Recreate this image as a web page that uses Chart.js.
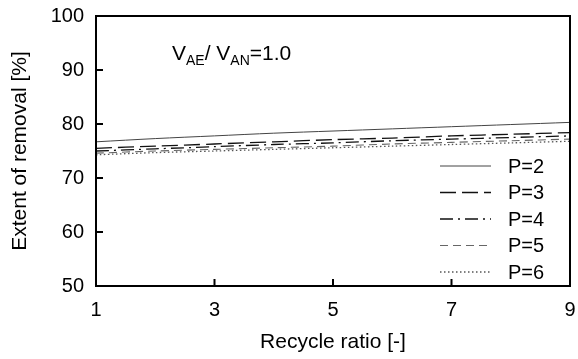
<!DOCTYPE html>
<html>
<head>
<meta charset="utf-8">
<script src="https://cdn.jsdelivr.net/npm/chart.js@4"></script>
<style>
  html, body { margin:0; padding:0; background:#fff; }
  #wrap { width:578px; height:359px; }
</style>
</head>
<body>
<div id="wrap"><canvas id="chart" width="578" height="359"></canvas></div>
<script>
// ================= DATA =================
const ratios = [1, 2, 3, 4, 5, 6, 7, 8, 9];
const p2 = [76.7, 77.3, 77.8, 78.3, 78.7, 79.1, 79.5, 79.9, 80.3];
const p3 = [75.5, 75.9, 76.3, 76.7, 77.1, 77.4, 77.8, 78.1, 78.4];
const p4 = [75.0, 75.4, 75.8, 76.2, 76.5, 76.9, 77.2, 77.5, 77.8];
const p5 = [74.6, 75.0, 75.3, 75.6, 75.9, 76.3, 76.6, 76.9, 77.2];
const p6 = [74.3, 74.7, 75.0, 75.3, 75.6, 75.9, 76.2, 76.5, 76.8];
const seriesNames = ["P=2", "P=3", "P=4", "P=5", "P=6"];
const xTicks = [1, 3, 5, 7, 9];
const yTicks = [50, 60, 70, 80, 90, 100];

const FONT = "Liberation Sans, Arial, sans-serif";

function pts(vals){
    return ratios.map((r, i) => ({x: r, y: vals[i]}));
}

const styles = [
    {color:"#444", dash:[], width:1},
    {color:"#111", dash:[16,6], width:1.3},
    {color:"#111", dash:[13,5,2,5], width:1.3},
    {color:"#666", dash:[8,5], width:1.1},
    {color:"#555", dash:[1.5,2.5], width:1.3}
];

const datasets = [p2, p3, p4, p5, p6].map((v, i) => ({
    label: seriesNames[i],
    data: pts(v),
    borderColor: styles[i].color,
    borderDash: styles[i].dash,
    borderWidth: styles[i].width,
    pointRadius: 0,
    fill: false,
    tension: 0.3
}));

// ================= PLUGINS =================
const frame = {
    id: "frame",
    afterDraw(chart){
        const {ctx, chartArea:a, scales:{x, y}} = chart;
        ctx.save();
        ctx.strokeStyle = "#000";
        ctx.lineWidth = 2;
        ctx.strokeRect(a.left, a.top, a.right - a.left, a.bottom - a.top);
        ctx.beginPath();
        yTicks.forEach(t => {
            const py = y.getPixelForValue(t);
            ctx.moveTo(a.left, py); ctx.lineTo(a.left + 7, py);
        });
        xTicks.forEach(t => {
            const px = x.getPixelForValue(t);
            ctx.moveTo(px, a.bottom); ctx.lineTo(px, a.bottom - 7);
        });
        ctx.stroke();

        // annotation
        ctx.fillStyle = "#000";
        ctx.textBaseline = "alphabetic";
        let cx = 172, cy = 60;
        const part = (txt, size, dy) => {
            ctx.font = size + "px " + FONT;
            ctx.fillText(txt, cx, cy + dy);
            cx += ctx.measureText(txt).width;
        };
        part("V", 21, 0); part("AE", 14, 5); part("/ V", 21, 0); part("AN", 14, 5); part("=1.0", 21, 0);

        // legend
        ctx.font = "20px " + FONT;
        chart.data.datasets.forEach((ds, i) => {
            const ly = 166 + i * 26.5;
            ctx.save();
            ctx.strokeStyle = ds.borderColor;
            ctx.lineWidth = ds.borderWidth;
            ctx.setLineDash(ds.borderDash);
            ctx.beginPath();
            ctx.moveTo(440, ly); ctx.lineTo(491, ly);
            ctx.stroke();
            ctx.restore();
            ctx.textBaseline = "middle";
            ctx.fillText(ds.label, 508, ly + 1);
        });
        ctx.restore();
    }
};

// ================= CHART =================
new Chart(document.getElementById("chart").getContext("2d"), {
    type: "line",
    data: { datasets },
    options: {
        responsive: false,
        animation: false,
        layout: { padding: { top: 16, right: 8, left: 0, bottom: 0 } },
        plugins: { legend: { display: false }, tooltip: { enabled: false } },
        scales: {
            x: {
                type: "linear", min: 1, max: 9,
                afterFit: s => { s.height = 73; s.paddingLeft = 0; s.paddingRight = 0; },
                afterBuildTicks: s => { s.ticks = xTicks.map(v => ({value: v})); },
                grid: { display: false, drawTicks: false },
                border: { display: false },
                ticks: { color: "#000", font: { family: FONT, size: 20 }, padding: 12, maxRotation: 0 },
                title: { display: true, text: "Recycle ratio [-]", color: "#000",
                         font: { family: FONT, size: 21 }, padding: { top: 4 } }
            },
            y: {
                min: 50, max: 100,
                afterFit: s => { s.width = 96; s.paddingTop = 0; s.paddingBottom = 0; },
                afterBuildTicks: s => { s.ticks = yTicks.map(v => ({value: v})); },
                grid: { display: false, drawTicks: false },
                border: { display: false },
                ticks: { color: "#000", font: { family: FONT, size: 20 }, padding: 12 },
                title: { display: true, text: "Extent of removal [%]", color: "#000",
                         font: { family: FONT, size: 21 }, padding: { top: 8, bottom: 0 } }
            }
        }
    },
    plugins: [frame]
});
</script>
</body>
</html>
